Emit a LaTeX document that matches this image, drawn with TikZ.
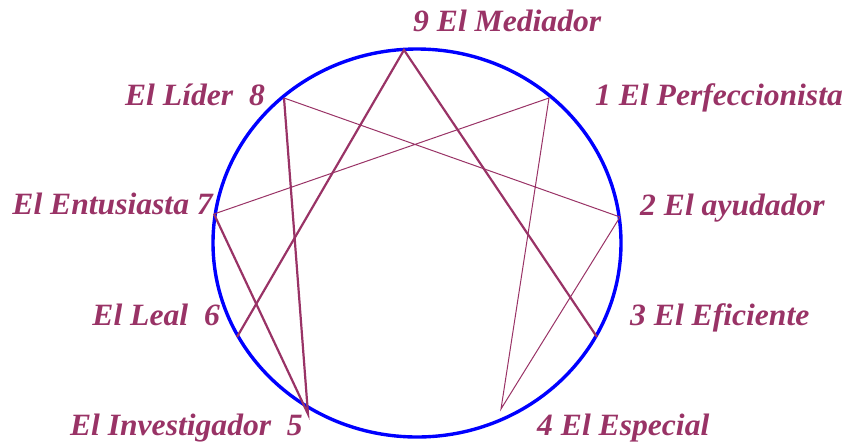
\documentclass[tikz,border=0pt]{standalone}
\usepackage{fontspec}
\setmainfont{Liberation Serif}
\usepackage{tikz}
\usetikzlibrary{positioning,calc}
\definecolor{granate}{HTML}{993366}
\definecolor{azul}{HTML}{0000FF}
\tikzset{
  etiq/.style={font=\fontsize{31}{34}\selectfont\bfseries\itshape, text=granate, inner sep=0pt, xscale=1.02},
  gruesa/.style={draw=granate, line width=2.2pt},
  fina/.style={draw=granate, line width=1pt},
}

\begin{document}
\begin{tikzpicture}[x=1pt,y=-1pt]
    \useasboundingbox (0,0) rectangle (846,445);
    \draw[azul, line width=3.4pt] (417,243) ellipse [x radius=204pt, y radius=194pt];
    % puntos del eneagrama
    \coordinate (p9) at (404,50);
    \coordinate (p1) at (549,98);
    \coordinate (p2) at (620,217);
    \coordinate (p3) at (597,337);
    \coordinate (p4) at (501,409);
    \coordinate (p5) at (308,414);
    \coordinate (p6) at (237,337);
    \coordinate (p7) at (214,214);
    \coordinate (p8) at (284,98);
    % triangulo
    \draw[gruesa] (p6) -- (p9) -- (p3);
    % hexada
    \draw[fina] (p7) -- (p1) -- (p4) -- (p2) -- (p8);
    \draw[gruesa] (p8) -- (p5) -- (p7);
    % nombres
    \node[etiq, anchor=base west] (n9) at (413,31) {9 El Mediador};
    \node[etiq, anchor=base west] (n1) at (595,105) {1 El Perfeccionista};
    \node[etiq, anchor=base west] (n2) at (640,215) {2 El ayudador};
    \node[etiq, anchor=base west] (n3) at (630,325) {3 El Eficiente};
    \node[etiq, anchor=base west] (n4) at (537,435) {4 El Especial};
    \node[etiq, anchor=base east] (n5) at (303,435) {El Investigador\ \ 5};
    \node[etiq, anchor=base east] (n6) at (220,325) {El Leal\ \ 6};
    \node[etiq, anchor=base east] (n7) at (213,214) {El Entusiasta 7};
    \node[etiq, anchor=base east] (n8) at (265,105) {El Líder\ \ 8};
  \end{tikzpicture}
\end{document}
